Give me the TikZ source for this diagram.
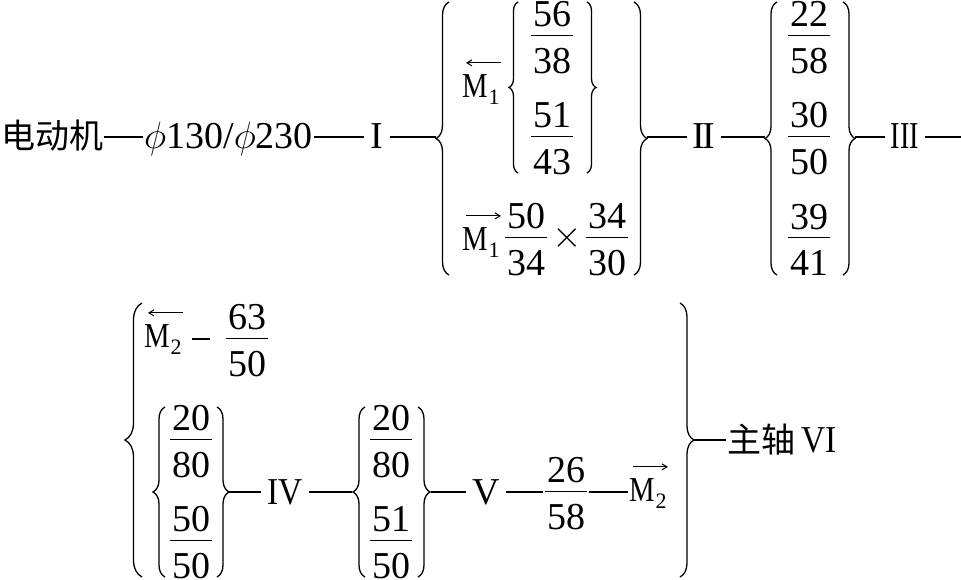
\RequirePackage{fix-cm}
\documentclass[tikz,border=0pt]{standalone}
\usepackage{amsmath}
\usepackage{graphicx}
\usepackage{fontspec}
\setmainfont{Liberation Serif}
\newfontfamily\cjk{Noto Sans CJK SC}
\usepackage{tikz}
\usetikzlibrary{positioning, arrows.meta, decorations.pathreplacing}

\setlength{\arrayrulewidth}{1.2pt}
\newcommand{\fr}[2]{{\renewcommand{\arraystretch}{0}%
  \begin{tabular}{@{\hspace{2pt}}c@{\hspace{2pt}}}\rule[-8pt]{0pt}{35pt}#1\\ \hline
  \rule{0pt}{37.5pt}#2\end{tabular}}}
\newcommand{\zh}[1]{{\fontsize{34}{40}\cjk #1}}
\newcommand{\clutchname}[1]{\scalebox{0.82}[1]{M}\kern1pt\raisebox{-7pt}{\fontsize{22}{24}\selectfont #1}}

\begin{document}
\begin{tikzpicture}[x=1pt, y=-1pt,
    every node/.style={font=\fontsize{38}{44}\selectfont, inner sep=1pt},
    word/.style={text height=30pt, text depth=6pt},
    shaft/.style={word, inner xsep=6pt},
    ratio/.style={inner sep=0pt},
    clutch/.style={font=\fontsize{35}{40}\selectfont, anchor=base west},
    link/.style={draw, line width=1.5pt},
    pointer/.style={draw, line width=1pt, -{Straight Barb[length=5pt, width=6pt]}},
    curly/.style={draw, line width=1.3pt, decorate, decoration={brace, amplitude=#1}}
]
\useasboundingbox (0,0) rectangle (961,580);

% first line
\node[word, anchor=west] (motor) at (0,137) {\zh{电动机}};
\node[word, anchor=west] (pulley) at (143,137) {$\phi$130/$\phi$230};
\node[shaft] (s1) at (377,137) {I};
\coordinate (b1a) at (436,137);
\draw[curly=13] (449,275) -- (449,2);

\node[clutch] (m1a) at (461,98) {\clutchname{1}};
\draw[pointer] ([yshift=11pt]m1a.north east) -- ([xshift=5pt, yshift=11pt]m1a.north west);
\draw[curly=9] (518,173) -- (518,2);
\node[ratio] (f1) at (552,37) {\fr{56}{38}};
\node[ratio] (f2) at (552,138) {\fr{51}{43}};
\draw[curly=9] (587,2) -- (587,173);
\node[clutch] (m1b) at (461,251) {\clutchname{1}};
\draw[pointer] ([xshift=5pt, yshift=11pt]m1b.north west) -- ([yshift=11pt]m1b.north east);
\node[ratio] (f3) at (526,239) {\fr{50}{34}};
\node (x1) at (567,238) {$\times$};
\node[ratio] (f4) at (607,239) {\fr{34}{30}};

\draw[curly=13] (634,2) -- (634,275);
\coordinate (b1b) at (647,137);
\node[shaft] (s2) at (704,137) {I\kern-3pt I};
\coordinate (b2a) at (765,137);
\draw[curly=12] (777,275) -- (777,2);
\node[ratio] (f5) at (809,37) {\fr{22}{58}};
\node[ratio] (f6) at (809,138) {\fr{30}{50}};
\node[ratio] (f7) at (809,239) {\fr{39}{41}};
\draw[curly=12] (843,2) -- (843,275);
\coordinate (b2b) at (855,137);
\node[shaft] (s3) at (905,137) {\scalebox{0.75}[1]{III}};
\coordinate (cont) at (961,137);

\draw[link] (motor) -- (pulley);
\draw[link] (pulley) -- (s1);
\draw[link] (s1) -- (b1a);
\draw[link] (b1b) -- (s2);
\draw[link] (s2) -- (b2a);
\draw[link] (b2b) -- (s3);
\draw[link] (s3) -- (cont);

% second line
\draw[curly=17] (142,577) -- (142,303);
\node[clutch] (m2a) at (143,347) {\clutchname{2}};
\draw[pointer] ([yshift=10pt]m2a.north east) -- ([xshift=5pt, yshift=10pt]m2a.north west);
\node[ratio] (f8) at (247,340) {\fr{63}{50}};
\draw[link, shorten <=9pt, shorten >=16pt] (m2a.east |- 0,339) -- (f8.west |- 0,339);

\draw[curly=12] (165,577) -- (165,407);
\node[ratio] (f9) at (191,441) {\fr{20}{80}};
\node[ratio] (f10) at (191,542) {\fr{50}{50}};
\draw[curly=12] (217,407) -- (217,577);
\coordinate (b4b) at (229,492);
\node[shaft] (s4) at (285,492) {\scalebox{0.88}[1]{IV}};
\coordinate (b5a) at (352,492);
\draw[curly=12] (365,577) -- (365,407);
\node[ratio] (f11) at (391,441) {\fr{20}{80}};
\node[ratio] (f12) at (391,542) {\fr{51}{50}};
\draw[curly=12] (418,407) -- (418,577);
\coordinate (b5b) at (431,492);
\node[shaft] (s5) at (486,492) {V};
\node[ratio] (f13) at (566,493) {\fr{26}{58}};
\node[clutch] (m2b) at (628,501) {\clutchname{2}};
\draw[pointer] ([xshift=5pt, yshift=10pt]m2b.north west) -- ([yshift=10pt]m2b.north east);

\draw[curly=14] (680,303) -- (680,577);
\coordinate (b3b) at (694,440);
\node[word, anchor=west] (spindle) at (726,440) {\zh{主轴}\,\scalebox{0.88}[1]{VI}};

\draw[link] (b4b) -- (s4);
\draw[link] (s4) -- (b5a);
\draw[link] (b5b) -- (s5);
\draw[link, shorten >=2pt] (s5) -- (s5 -| f13.west);
\draw[link, shorten <=2pt] (s5 -| f13.east) -- (s5 -| m2b.west);
\draw[link] (b3b) -- (spindle);
\end{tikzpicture}
\end{document}
